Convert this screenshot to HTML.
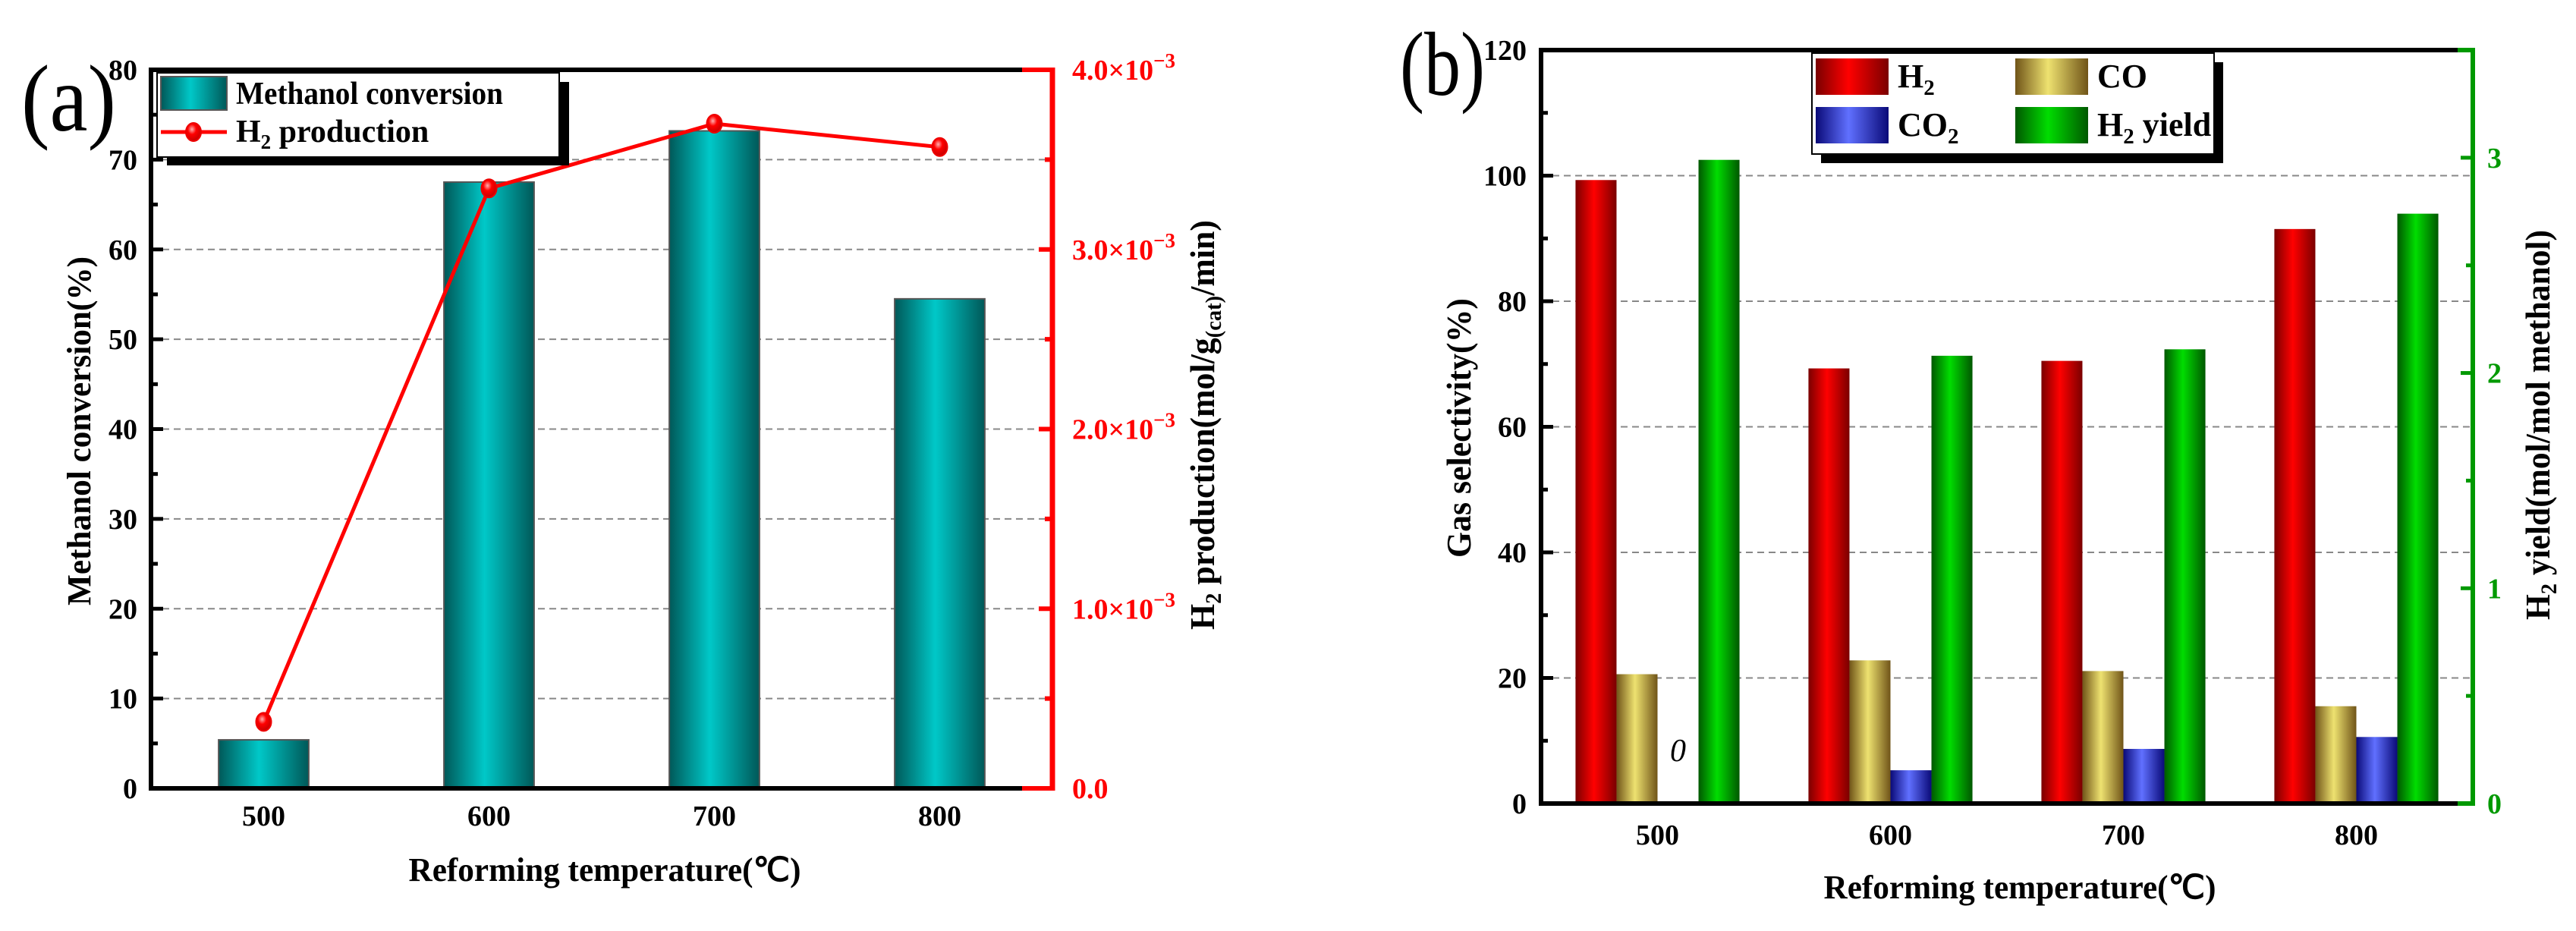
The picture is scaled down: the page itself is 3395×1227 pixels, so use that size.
<!DOCTYPE html>
<html><head><meta charset="utf-8">
<style>
html,body{margin:0;padding:0;background:#fff;}
svg{display:block;}
text{font-family:"Liberation Serif",serif;font-weight:bold;}
text.normal{font-weight:normal;}
</style></head>
<body>
<svg id="fig" width="3395" height="1227" viewBox="0 0 3395 1227" xmlns="http://www.w3.org/2000/svg">
<defs>
<linearGradient id="gTeal" x1="0" x2="1" y1="0" y2="0"><stop offset="0" stop-color="#005858"/><stop offset="0.45" stop-color="#00c8c8"/><stop offset="1" stop-color="#005858"/></linearGradient>
<linearGradient id="gRed" x1="0" x2="1"><stop offset="0" stop-color="#7a0000"/><stop offset="0.45" stop-color="#ff0000"/><stop offset="1" stop-color="#7a0000"/></linearGradient>
<linearGradient id="gCO" x1="0" x2="1"><stop offset="0" stop-color="#705418"/><stop offset="0.45" stop-color="#eee270"/><stop offset="1" stop-color="#705418"/></linearGradient>
<linearGradient id="gCO2" x1="0" x2="1"><stop offset="0" stop-color="#0a0a78"/><stop offset="0.45" stop-color="#6070ff"/><stop offset="1" stop-color="#0a0a78"/></linearGradient>
<linearGradient id="gGreen" x1="0" x2="1"><stop offset="0" stop-color="#005800"/><stop offset="0.45" stop-color="#00dd00"/><stop offset="1" stop-color="#005800"/></linearGradient>
<radialGradient id="gDot" cx="0.4" cy="0.35" r="0.7"><stop offset="0" stop-color="#ffb0b0"/><stop offset="0.4" stop-color="#ff0000"/><stop offset="1" stop-color="#c00000"/></radialGradient>
</defs>
</svg>
<script>
// ---- Panel (a) data ----
const catsA = [500, 600, 700, 800];
const convValues = [5.4, 67.5, 73.2, 54.5];
const h2ProdValues = [0.37, 3.34, 3.70, 3.57]; // ×10^-3
const leftTicksA = [0, 10, 20, 30, 40, 50, 60, 70, 80];
const rightTicksA = ["0.0", "1.0", "2.0", "3.0", "4.0"];
// ---- Panel (b) data ----
const catsB = [500, 600, 700, 800];
const h2Sel = [99.3, 69.3, 70.5, 91.5];
const coSel = [20.6, 22.8, 21.1, 15.5];
const co2Sel = [0, 5.3, 8.7, 10.6];
const h2Yield = [2.99, 2.08, 2.11, 2.74];
const leftTicksB = [0, 20, 40, 60, 80, 100, 120];
const rightTicksB = [0, 1, 2, 3];

const NS = "http://www.w3.org/2000/svg";
const svg = document.getElementById('fig');
function mk(tag, attrs, parent, txt){
  const e = document.createElementNS(NS, tag);
  for (const k in attrs) e.setAttribute(k, attrs[k]);
  if (txt !== undefined) e.textContent = txt;
  (parent || svg).appendChild(e);
  return e;
}
function grp(name){
  const g = mk('g', {});
  
  
  return g;
}

// ================= PANEL A =================
const A = {l:199, r:1387, t:92, b:1039};
const xA = v => A.l + (v - 450) / 400 * (A.r - A.l);
const yA = v => A.b - v / 80 * (A.b - A.t);
const yA2 = v => A.b - v / 4 * (A.b - A.t);
const pa = grp('panel-a');

const gridA = grp('grid-a'); pa.appendChild(gridA);
leftTicksA.forEach(v => { if (v > 0 && v < 80) {
  const l = mk('line', {x1:A.l, x2:A.r, y1:yA(v), y2:yA(v), stroke:'#888', 'stroke-width':2, 'stroke-dasharray':'9,6'}, gridA);
   
}});

const barsA = grp('bars-conversion'); pa.appendChild(barsA);
const bwA = 0.4 * 100 / 400 * (A.r - A.l);
catsA.forEach((c, i) => {
  const r = mk('rect', {x:xA(c) - bwA/2, y:yA(convValues[i]), width:bwA, height:yA(0) - yA(convValues[i]), fill:'url(#gTeal)', stroke:'#555', 'stroke-width':2}, barsA);
   
});

mk('line', {x1:A.l, x2:A.l, y1:A.t-2, y2:A.b+3, stroke:'#000', 'stroke-width':6}, pa);
mk('line', {x1:A.l-3, x2:A.r, y1:A.b, y2:A.b, stroke:'#000', 'stroke-width':6}, pa);
mk('line', {x1:A.l-3, x2:A.r, y1:A.t, y2:A.t, stroke:'#000', 'stroke-width':6}, pa);
mk('line', {x1:A.r-40, x2:A.r+3, y1:A.t, y2:A.t, stroke:'#f00', 'stroke-width':6}, pa);
mk('line', {x1:A.r-40, x2:A.r+3, y1:A.b, y2:A.b, stroke:'#f00', 'stroke-width':6}, pa);
mk('line', {x1:A.r, x2:A.r, y1:A.t-3, y2:A.b+3, stroke:'#f00', 'stroke-width':7}, pa);

const ltA = grp('y-axis-left-ticks-a'); pa.appendChild(ltA);
for (let v = 0; v <= 80; v += 5) {
  const major = v % 10 === 0;
  mk('line', {x1:A.l, x2:A.l + (major ? 16 : 9), y1:yA(v), y2:yA(v), stroke:'#000', 'stroke-width':5}, ltA);
}
leftTicksA.forEach(v => {
  const t = mk('text', {x:181, y:yA(v) + 13, 'font-size':38, 'text-anchor':'end'}, ltA, String(v));
   
});
const rtA = grp('y-axis-right-ticks-a'); pa.appendChild(rtA);
for (let k = 0; k <= 8; k++) {
  const v = k * 0.5, major = k % 2 === 0;
  mk('line', {x1:A.r - (major ? 18 : 10), x2:A.r, y1:yA2(v), y2:yA2(v), stroke:'#f00', 'stroke-width':6}, rtA);
}
rightTicksA.forEach((lbl, i) => {
  const y = yA2(parseFloat(lbl));
  const t = mk('text', {x:1413, y:y + 13, 'font-size':38, fill:'#f00'}, rtA);
   
  if (parseFloat(lbl) === 0) {
    mk('tspan', {}, t, lbl);
  } else {
    mk('tspan', {}, t, lbl + '×10');
    mk('tspan', {dy:-16, 'font-size':27}, t, '−3');
  }
});
const xtA = grp('x-axis-ticks-a'); pa.appendChild(xtA);
catsA.forEach(c => {
  const t = mk('text', {x:xA(c), y:1088, 'font-size':38, 'text-anchor':'middle'}, xtA, String(c));
   
});

const lineA = grp('h2-production-line'); pa.appendChild(lineA);
mk('polyline', {points: catsA.map((c, i) => xA(c) + ',' + yA2(h2ProdValues[i])).join(' '), fill:'none', stroke:'#f00', 'stroke-width':5}, lineA);
catsA.forEach((c, i) => {
  const d = mk('ellipse', {cx:xA(c), cy:yA2(h2ProdValues[i]), rx:10, ry:12, fill:'url(#gDot)', stroke:'#e00', 'stroke-width':2}, lineA);
   
});

let t;
t = mk('text', {x:0, y:0, 'font-size':44, 'text-anchor':'middle', transform:'translate(119,568) rotate(-90)', textLength:460, lengthAdjust:'spacingAndGlyphs'}, pa, 'Methanol conversion(%)');
 
t = mk('text', {x:0, y:0, 'font-size':46, 'text-anchor':'middle', transform:'translate(1600,560) rotate(-90)', textLength:540, lengthAdjust:'spacingAndGlyphs'}, pa);
 
mk('tspan', {}, t, 'H');
mk('tspan', {dy:9, 'font-size':30}, t, '2');
mk('tspan', {dy:-9}, t, ' production(mol/g');
mk('tspan', {dy:9, 'font-size':30}, t, '(cat)');
mk('tspan', {dy:-9}, t, '/min)');
t = mk('text', {x:797, y:1161, 'font-size':44, 'text-anchor':'middle', textLength:517, lengthAdjust:'spacingAndGlyphs'}, pa, 'Reforming temperature(℃)');
 
t = mk('text', {x:28, y:172, 'font-size':125, 'class':'normal', textLength:125, lengthAdjust:'spacingAndGlyphs'}, pa, '(a)');
 

const legA = grp('legend-a'); pa.appendChild(legA);
mk('rect', {x:220, y:108, width:530, height:110, fill:'#000'}, legA);
mk('rect', {x:207, y:96, width:530, height:111, fill:'#fff', stroke:'#000', 'stroke-width':2}, legA);
let e = mk('rect', {x:212, y:101, width:87, height:44, fill:'url(#gTeal)', stroke:'#555', 'stroke-width':2}, legA);
 
t = mk('text', {x:311, y:137, 'font-size':42, textLength:352, lengthAdjust:'spacingAndGlyphs'}, legA, 'Methanol conversion');
 
mk('line', {x1:212, x2:299, y1:174, y2:174, stroke:'#f00', 'stroke-width':5}, legA);
e = mk('ellipse', {cx:255, cy:174, rx:10, ry:12, fill:'url(#gDot)', stroke:'#e00', 'stroke-width':2}, legA);
 
t = mk('text', {x:311, y:187, 'font-size':42}, legA);
 
mk('tspan', {}, t, 'H');
mk('tspan', {dy:9, 'font-size':27}, t, '2');
mk('tspan', {dy:-9}, t, ' production');

// ================= PANEL B =================
const B = {l:2031, r:3259, t:66, b:1059};
const xB = v => B.l + (v - 450) / 400 * (B.r - B.l);
const yB = v => B.b - v / 120 * (B.b - B.t);
const yB2 = v => B.b - v / 3.5 * (B.b - B.t);
const pb = grp('panel-b');

const gridB = grp('grid-b'); pb.appendChild(gridB);
leftTicksB.forEach(v => { if (v > 0 && v < 120) {
  const l = mk('line', {x1:B.l, x2:B.r, y1:yB(v), y2:yB(v), stroke:'#888', 'stroke-width':2, 'stroke-dasharray':'9,6'}, gridB);
   
}});

const bw = 0.176 * (B.r - B.l) / 4;
const seriesB = [
  {name:'h2', vals:h2Sel, fill:'url(#gRed)', y:yB},
  {name:'co', vals:coSel, fill:'url(#gCO)', y:yB},
  {name:'co2', vals:co2Sel, fill:'url(#gCO2)', y:yB},
  {name:'h2-yield', vals:h2Yield, fill:'url(#gGreen)', y:yB2}
];
const barsB = grp('bars-b'); pb.appendChild(barsB);
catsB.forEach((c, i) => {
  seriesB.forEach((s, j) => {
    const x = xB(c) + (j - 2) * bw;
    const v = s.vals[i];
    if (v > 0) {
      const r = mk('rect', {x:x, y:s.y(v), width:bw, height:s.y(0) - s.y(v), fill:s.fill}, barsB);
       
    }
  });
});
t = mk('text', {x:xB(500) + 0.5 * bw, y:1003, 'font-size':42, 'font-style':'italic', 'class':'normal', 'text-anchor':'middle'}, pb, '0');
 

mk('line', {x1:B.l, x2:B.l, y1:B.t-3, y2:B.b+3, stroke:'#000', 'stroke-width':6}, pb);
mk('line', {x1:B.l-3, x2:B.r, y1:B.b, y2:B.b, stroke:'#000', 'stroke-width':6}, pb);
mk('line', {x1:B.l-3, x2:B.r, y1:B.t, y2:B.t, stroke:'#000', 'stroke-width':6}, pb);
mk('line', {x1:B.r-20, x2:B.r+3, y1:B.b, y2:B.b, stroke:'#090', 'stroke-width':6}, pb);
mk('line', {x1:B.r-20, x2:B.r+3, y1:B.t, y2:B.t, stroke:'#090', 'stroke-width':6}, pb);
mk('line', {x1:B.r, x2:B.r, y1:B.t-3, y2:B.b+3, stroke:'#090', 'stroke-width':6}, pb);

const ltB = grp('y-axis-left-ticks-b'); pb.appendChild(ltB);
for (let v = 0; v <= 120; v += 10) {
  const major = v % 20 === 0;
  mk('line', {x1:B.l, x2:B.l + (major ? 16 : 9), y1:yB(v), y2:yB(v), stroke:'#000', 'stroke-width':5}, ltB);
}
leftTicksB.forEach(v => {
  const t = mk('text', {x:2012, y:yB(v) + 13, 'font-size':38, 'text-anchor':'end'}, ltB, String(v));
   
});
const rtB = grp('y-axis-right-ticks-b'); pb.appendChild(rtB);
for (let k = 0; k <= 7; k++) {
  const v = k * 0.5, major = k % 2 === 0;
  mk('line', {x1:B.r - (major ? 16 : 9), x2:B.r, y1:yB2(v), y2:yB2(v), stroke:'#090', 'stroke-width':5}, rtB);
}
rightTicksB.forEach(v => {
  const t = mk('text', {x:3278, y:yB2(v) + 13, 'font-size':38, fill:'#090'}, rtB, String(v));
   
});
const xtB = grp('x-axis-ticks-b'); pb.appendChild(xtB);
catsB.forEach(c => {
  const t = mk('text', {x:xB(c), y:1113, 'font-size':38, 'text-anchor':'middle'}, xtB, String(c));
   
});

t = mk('text', {x:0, y:0, 'font-size':46, 'text-anchor':'middle', transform:'translate(1938,564) rotate(-90)', textLength:342, lengthAdjust:'spacingAndGlyphs'}, pb, 'Gas selectivity(%)');
 
t = mk('text', {x:0, y:0, 'font-size':46, 'text-anchor':'middle', transform:'translate(3360,560) rotate(-90)', textLength:514, lengthAdjust:'spacingAndGlyphs'}, pb);
 
mk('tspan', {}, t, 'H');
mk('tspan', {dy:9, 'font-size':30}, t, '2');
mk('tspan', {dy:-9}, t, ' yield(mol/mol methanol)');
t = mk('text', {x:2662, y:1184, 'font-size':44, 'text-anchor':'middle', textLength:517, lengthAdjust:'spacingAndGlyphs'}, pb, 'Reforming temperature(℃)');
 
t = mk('text', {x:1845, y:125, 'font-size':120, 'class':'normal', textLength:112, lengthAdjust:'spacingAndGlyphs'}, pb, '(b)');
 

const legB = grp('legend-b'); pb.appendChild(legB);
mk('rect', {x:2400, y:82, width:530, height:133, fill:'#000'}, legB);
mk('rect', {x:2388, y:70, width:530, height:133, fill:'#fff', stroke:'#000', 'stroke-width':2}, legB);
const legItems = [
  {n:'h2', x:2393, y:77, fill:'url(#gRed)', main:'H', sub:'2', rest:''},
  {n:'co', x:2656, y:77, fill:'url(#gCO)', main:'CO', sub:'', rest:''},
  {n:'co2', x:2393, y:141, fill:'url(#gCO2)', main:'CO', sub:'2', rest:''},
  {n:'h2-yield', x:2656, y:141, fill:'url(#gGreen)', main:'H', sub:'2', rest:' yield'}
];
legItems.forEach(it => {
  const r = mk('rect', {x:it.x, y:it.y, width:96, height:48, fill:it.fill}, legB);
   
  const tx = mk('text', {x:it.x + 108, y:it.y + 38, 'font-size':44}, legB);
   
  mk('tspan', {}, tx, it.main);
  if (it.sub) { mk('tspan', {dy:10, 'font-size':29}, tx, it.sub); }
  if (it.rest) { mk('tspan', {dy:-10}, tx, it.rest); }
});
</script>
</body></html>
